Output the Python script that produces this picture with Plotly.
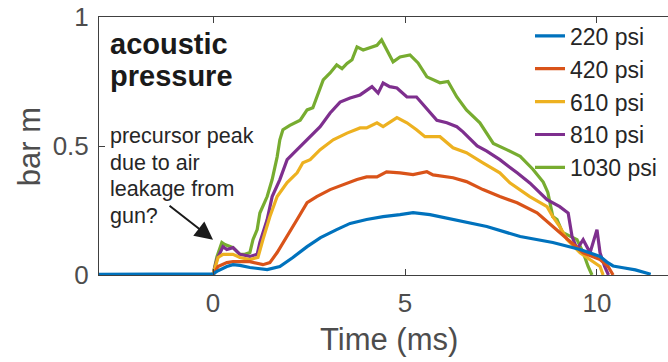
import plotly.graph_objects as go

# ---------------- data ----------------
series_names = ["220 psi", "420 psi", "610 psi", "810 psi", "1030 psi"]
series_colors = ["#0072BD", "#D95319", "#EDB120", "#7E2F8E", "#77AC30"]

t_220 = [-2.97, -2, -1, 0, 0.1, 0.36, 0.52, 0.7, 0.96, 1.41, 1.74, 2.08, 2.45, 2.8, 3.22, 3.57,
         4.0, 4.43, 4.87, 5.21, 5.65, 6.25, 7.13, 8.0, 8.85, 9.56, 10.08, 10.26, 10.42, 10.68, 11.0, 11.4]
v_220 = [0.003, 0.003, 0.003, 0.004, 0.014, 0.033, 0.04, 0.037, 0.029, 0.021, 0.033, 0.068, 0.11, 0.145,
         0.176, 0.2, 0.215, 0.226, 0.234, 0.242, 0.234, 0.215, 0.188, 0.149, 0.126, 0.099, 0.072, 0.05,
         0.035, 0.028, 0.02, 0.003]

t_420 = [-2.97, -1, 0, 0.13, 0.36, 0.52, 0.96, 1.3, 1.48, 1.67, 1.93, 2.19, 2.45, 2.7, 3.05, 3.39, 3.75,
         4.0, 4.27, 4.52, 4.87, 5.21, 5.57, 5.73, 6.25, 6.6, 7.03, 7.47, 7.92, 8.44, 8.85, 9.22, 9.64,
         10.08, 10.29, 10.42]
v_420 = [-0.003, -0.003, -0.002, 0.033, 0.048, 0.052, 0.052, 0.04, 0.048, 0.087, 0.149, 0.215, 0.28,
         0.304, 0.331, 0.35, 0.37, 0.38, 0.38, 0.40, 0.396, 0.389, 0.40, 0.388, 0.377, 0.362, 0.331,
         0.304, 0.28, 0.241, 0.188, 0.137, 0.086, 0.06, 0.033, 0.0]

t_610 = [-2.97, 0, 0.13, 0.26, 0.52, 0.7, 0.96, 1.17, 1.3, 1.48, 1.67, 1.93, 2.19, 2.34, 2.53, 2.79,
         3.13, 3.49, 3.83, 4.0, 4.27, 4.43, 4.79, 5.05, 5.3, 5.52, 5.73, 5.91, 6.25, 6.6, 7.03, 7.47,
         7.73, 8.25, 8.7, 8.85, 9.03, 9.22, 9.56, 10.08, 10.16]
v_610 = [0.0, 0.002, 0.068, 0.08, 0.08, 0.068, 0.06, 0.068, 0.137, 0.226, 0.304, 0.358, 0.396, 0.435,
         0.447, 0.486, 0.524, 0.55, 0.57, 0.57, 0.59, 0.575, 0.61, 0.59, 0.563, 0.536, 0.536, 0.536,
         0.493, 0.474, 0.435, 0.396, 0.357, 0.304, 0.265, 0.226, 0.188, 0.137, 0.086, 0.033, 0.0]

t_810 = [-2.97, 0, 0.1, 0.26, 0.36, 0.52, 0.7, 0.96, 1.15, 1.22, 1.41, 1.54, 1.74, 1.93, 2.19, 2.53,
         2.79, 3.05, 3.31, 3.57, 3.83, 4.14, 4.3, 4.43, 4.6, 4.79, 5.05, 5.3, 5.6, 5.83, 6.09, 6.35,
         6.51, 6.88, 7.13, 7.47, 7.92, 8.25, 8.7, 9.03, 9.25, 9.35, 9.48, 9.64, 9.82, 10.0, 10.08,
         10.2, 10.3]
v_810 = [0.0, 0.002, 0.06, 0.11, 0.099, 0.106, 0.08, 0.072, 0.08, 0.126, 0.215, 0.304, 0.37, 0.447,
         0.486, 0.536, 0.575, 0.628, 0.67, 0.686, 0.698, 0.73, 0.705, 0.744, 0.73, 0.725, 0.69, 0.69,
         0.64, 0.60, 0.59, 0.575, 0.555, 0.50, 0.48, 0.447, 0.396, 0.357, 0.292, 0.265, 0.24, 0.15,
         0.1, 0.137, 0.086, 0.176, 0.086, 0.033, 0.0]

t_1030 = [-2.97, 0, 0.1, 0.23, 0.31, 0.44, 0.52, 0.7, 0.83, 0.96, 1.04, 1.15, 1.22, 1.41, 1.54, 1.67,
          1.74, 1.82, 2.0, 2.27, 2.45, 2.6, 2.7, 2.87, 3.05, 3.22, 3.36, 3.49, 3.62, 3.75, 3.91, 4.14,
          4.27, 4.39, 4.52, 4.69, 4.87, 5.13, 5.34, 5.57, 5.91, 6.12, 6.35, 6.6, 6.95, 7.3, 7.66,
          8.0, 8.33, 8.6, 8.72, 8.85, 8.96, 9.1, 9.48, 9.64, 9.77, 9.87]
v_1030 = [0.0, 0.002, 0.07, 0.126, 0.118, 0.11, 0.106, 0.08, 0.08, 0.087, 0.137, 0.176, 0.24, 0.304,
          0.37, 0.458, 0.524, 0.563, 0.58, 0.60, 0.64, 0.648, 0.69, 0.756, 0.783, 0.814, 0.80, 0.82,
          0.834, 0.884, 0.872, 0.884, 0.89, 0.911, 0.872, 0.826, 0.845, 0.853, 0.822, 0.768, 0.745,
          0.75, 0.69, 0.64, 0.59, 0.51, 0.485, 0.46, 0.41, 0.36, 0.32, 0.226, 0.215, 0.165, 0.137,
          0.087, 0.033, 0.0]

series_t = [t_220, t_420, t_610, t_810, t_1030]
series_v = [v_220, v_420, v_610, v_810, v_1030]

x_ticks = [0, 5, 10]
y_ticks = [0, 0.5, 1]
y_ticklabels = ["0", "0.5", "1"]

# ---------------- figure ----------------
FONT = "Liberation Sans, Arial, Helvetica, sans-serif"
W, H = 668, 362
L, T, B = 99, 17, 86.5
PW = W - L
PH = H - T - B

def px(xp):
    return (xp - L) / PW

def py(yp):
    return (H - B - yp) / PH

fig = go.Figure()
# draw in reverse so the lowest-pressure trace sits on top
for i in reversed(range(len(series_names))):
    fig.add_trace(go.Scatter(
        x=series_t[i], y=series_v[i], mode="lines", name=series_names[i],
        line=dict(color=series_colors[i], width=3.2),
    ))

axis_col = "#4d4d4d"
fig.update_layout(
    width=W, height=H,
    margin=dict(l=L, r=0, t=T, b=B),
    plot_bgcolor="white", paper_bgcolor="white",
    font=dict(family=FONT, color=axis_col),
    showlegend=True,
    legend=dict(
        x=px(530), xanchor="left", y=py(102), yanchor="middle",
        traceorder="reversed", bgcolor="rgba(0,0,0,0)", borderwidth=0,
        font=dict(family=FONT, size=23, color="#262626"),
        itemwidth=30,
    ),
    xaxis=dict(
        range=[-2.97, 11.85], tickvals=x_ticks, ticktext=[str(v) for v in x_ticks],
        ticks="inside", ticklen=6, tickwidth=1, tickcolor="#404040",
        showline=True, linecolor="#404040", linewidth=1, mirror="ticks",
        showgrid=False, zeroline=False,
        tickfont=dict(family=FONT, size=26, color=axis_col),
        ticklabelstandoff=5,
    ),
    yaxis=dict(
        range=[0, 1], tickvals=y_ticks, ticktext=y_ticklabels,
        ticks="inside", ticklen=6, tickwidth=1, tickcolor="#404040",
        showline=True, linecolor="#404040", linewidth=1, mirror=False,
        showgrid=False, zeroline=False,
        tickfont=dict(family=FONT, size=26, color=axis_col),
        ticklabelstandoff=4,
    ),
)

annots = []
# axis titles
annots.append(dict(text="Time (ms)", xref="paper", yref="paper", x=px(389), y=py(340),
                   xanchor="center", yanchor="middle", showarrow=False,
                   font=dict(family=FONT, size=31, color=axis_col)))
annots.append(dict(text="bar m", xref="paper", yref="paper", x=px(29), y=py(147.5),
                   xanchor="center", yanchor="middle", showarrow=False, textangle=-90,
                   font=dict(family=FONT, size=31, color=axis_col)))
# bold label
for txt, yc in [("acoustic", 44.5), ("pressure", 76.5)]:
    annots.append(dict(text="<b>%s</b>" % txt, xref="paper", yref="paper", x=px(108), y=py(yc),
                       xanchor="left", yanchor="middle", showarrow=False,
                       font=dict(family=FONT, size=29, color="#1a1a1a")))
# precursor note
for txt, yc in [("precursor peak", 136.4), ("due to air", 163), ("leakage from", 189.5), ("gun?", 216)]:
    annots.append(dict(text=txt, xref="paper", yref="paper", x=px(108), y=py(yc),
                       xanchor="left", yanchor="middle", showarrow=False,
                       font=dict(family=FONT, size=21.5, color="#262626")))
# arrow
annots.append(dict(text="", x=0.0, y=0.137, xref="x", yref="y", showarrow=True,
                   ax=-45, ay=-35, axref="pixel", ayref="pixel",
                   arrowhead=2, arrowsize=1.8, arrowwidth=2, arrowcolor="#1a1a1a"))
fig.update_layout(annotations=annots)

fig.write_html("out.html")
